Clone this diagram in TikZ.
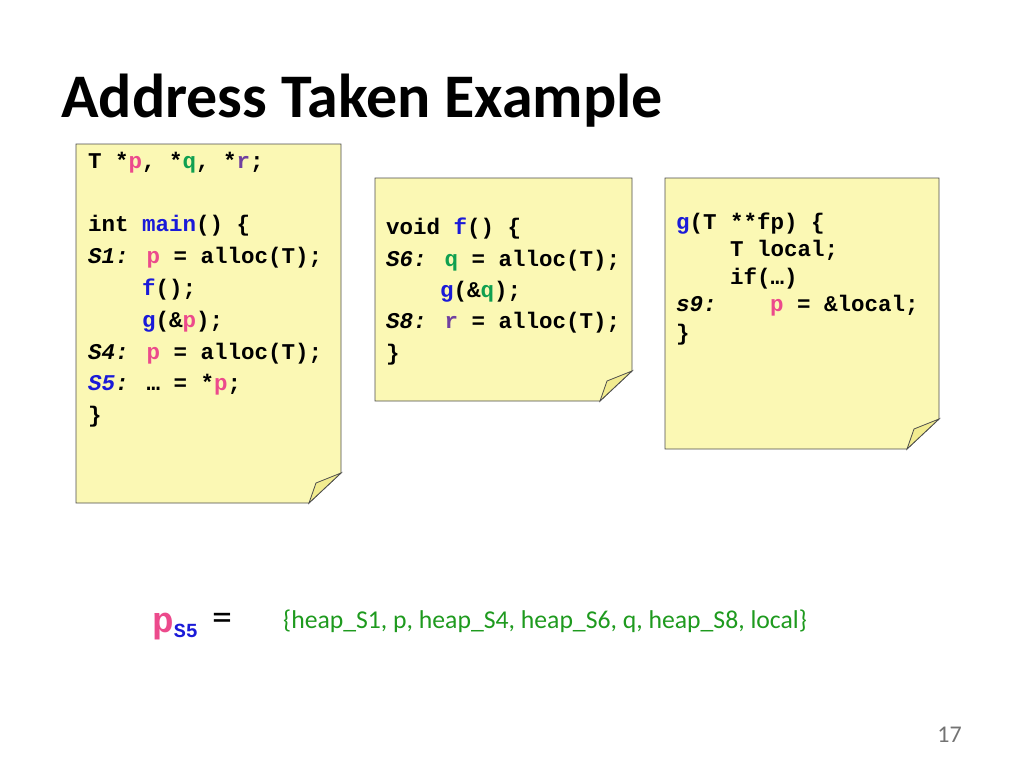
\documentclass[tikz,border=0pt]{standalone}
\usepackage{fontspec}
\setmainfont{Carlito}
\newfontfamily\codef[BoldFont={Liberation Mono Bold},BoldItalicFont={Liberation Mono Bold Italic}]{Liberation Mono}
\definecolor{pk}{HTML}{EC4A8C}
\definecolor{gn}{HTML}{10A050}
\definecolor{pu}{HTML}{7040A0}
\definecolor{bl}{HTML}{1A1AD8}
\definecolor{note}{HTML}{FBF8B4}
\definecolor{fold}{HTML}{F2EC90}
\definecolor{setg}{HTML}{1E9A1E}
\newcommand{\cP}[1]{\textcolor{pk}{#1}}
\newcommand{\cQ}[1]{\textcolor{gn}{#1}}
\newcommand{\cR}[1]{\textcolor{pu}{#1}}
\newcommand{\cB}[1]{\textcolor{bl}{#1}}
\tikzset{
  code/.style={anchor=base west,inner sep=0pt,font=\codef\bfseries\fontsize{22.5}{26}\selectfont},
}
\newcommand{\stickynote}[5]{% name x1 y1 x2 y2
  \fill[note,draw=black!70,line width=0.8pt] (#2,#3) -- (#4,#3) -- (#4,#5-30) -- (#4-32,#5) -- (#2,#5) -- cycle;
  \fill[fold,draw=black!70,line width=0.8pt] (#4,#5-30) -- (#4-32,#5) -- (#4-25,#5-20) -- cycle;
  \coordinate (#1) at (#2,#3);
}
\begin{document}
\begin{tikzpicture}[x=1pt,y=-1pt]
\useasboundingbox (0,0) rectangle (1024,768);
\node[anchor=base west,inner sep=0pt,font=\bfseries\fontsize{62}{70}\selectfont] (title) at (61,117) {Address Taken Example};
\stickynote{n1}{76}{144}{341}{503}
\stickynote{n2}{375}{178}{632}{401}
\stickynote{n3}{665}{178}{939}{449}
% box 1
\node[code] (a1) at (88,168) {T *\cP{p}, *\cQ{q}, *\cR{r};};
\node[code] (a2) at (88,231) {int \cB{main}() \{};
\node[code] (a3) at (88,263) {\textit{S1:} \cP{p} = alloc(T);};
\node[code] (a4) at (142,295) {\cB{f}();};
\node[code] (a5) at (142,327) {\cB{g}(\&\cP{p});};
\node[code] (a6) at (88,359) {\textit{S4:} \cP{p} = alloc(T);};
\node[code] (a7) at (88,390) {\cB{\textit{S5}}\textit{:} … = *\cP{p};};
\node[code] (a8) at (88,422) {\}};
% box 2
\node[code] (b1) at (386,234) {void \cB{f}() \{};
\node[code] (b2) at (386,266) {\textit{S6:} \cQ{q} = alloc(T);};
\node[code] (b3) at (440,297) {\cB{g}(\&\cQ{q});};
\node[code] (b4) at (386,328) {\textit{S8:} \cR{r} = alloc(T);};
\node[code] (b5) at (386,360) {\}};
% box 3
\node[code] (c1) at (676,229) {\cB{g}(T **fp) \{};
\node[code] (c2) at (730,256) {T local;};
\node[code] (c3) at (730,284) {if(…)};
\node[code] (c4) at (676,311) {\textit{s9:}};
\node[code] (c4b) at (770,311) {\cP{p} = \&local;};
\node[code] (c5) at (676,340) {\}};
% bottom
\node[anchor=base west,inner sep=0pt,font=\codef\bfseries\fontsize{36}{40}\selectfont] (ps) at (152,632) {\cP{p}\raisebox{-5pt}{\fontsize{20}{22}\selectfont\cB{S5}}};
\node[anchor=base west,inner sep=0pt,font=\fontsize{40}{44}\selectfont] (eq) at (212,630) {=};
\node[anchor=base west,inner sep=0pt,font=\fontsize{25.7}{28}\selectfont,text=setg] (set) at (283,628) {\{heap\_S1, p, heap\_S4, heap\_S6, q, heap\_S8, local\}};
\node[anchor=base east,inner sep=0pt,font=\fontsize{24}{28}\selectfont,text=black!55] (pg) at (962,742) {17};
\end{tikzpicture}
\end{document}
